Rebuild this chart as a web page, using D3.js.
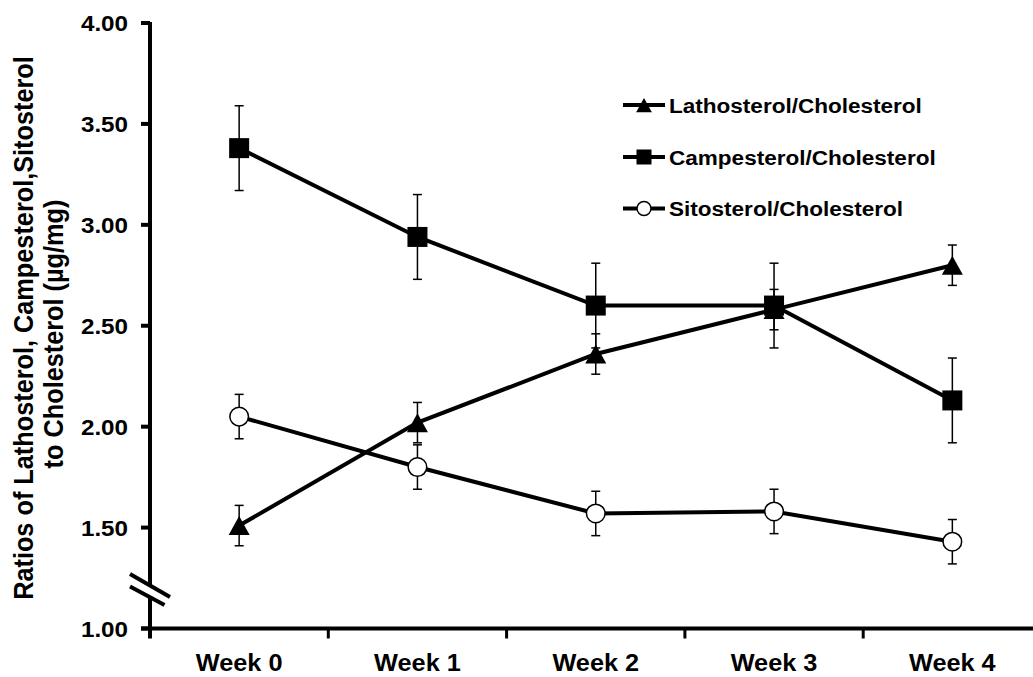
<!DOCTYPE html>
<html>
<head>
<meta charset="utf-8">
<script src="https://cdn.jsdelivr.net/npm/d3@7"></script>
<style>
  html, body { margin: 0; padding: 0; background: #fff; }
  text { font-family: "Liberation Sans", Arial, sans-serif; font-weight: bold; fill: #000; }
</style>
</head>
<body>
<div id="chart"></div>
<script>
// values
const weeks = ["Week 0", "Week 1", "Week 2", "Week 3", "Week 4"];
const yTicks = [1.00, 1.50, 2.00, 2.50, 3.00, 3.50, 4.00];

const lathosterol = [1.51, 2.02, 2.36, 2.58, 2.80];
const lathosterolErr = [0.10, 0.10, 0.10, 0.10, 0.10];
const campesterol = [3.38, 2.94, 2.60, 2.60, 2.13];
const campesterolErr = [0.21, 0.21, 0.21, 0.21, 0.21];
const sitosterol = [2.05, 1.80, 1.57, 1.58, 1.43];
const sitosterolErr = [0.11, 0.11, 0.11, 0.11, 0.11];

const seriesNames = ["Lathosterol/Cholesterol", "Campesterol/Cholesterol", "Sitosterol/Cholesterol"];
const axisBreak = 1.23;

const width = 1033;
const height = 677;
const stretch = 1.1; // text in the original is a bit wide

const series = [
    { name: seriesNames[2], values: sitosterol, err: sitosterolErr, shape: "circle" },
    { name: seriesNames[0], values: lathosterol, err: lathosterolErr, shape: "triangle" },
    { name: seriesNames[1], values: campesterol, err: campesterolErr, shape: "square" }
];

const svg = d3.select("#chart").append("svg")
    .attr("width", width)
    .attr("height", height)
    .attr("viewBox", `0 0 ${width} ${height}`);

const x = d3.scaleBand().domain(weeks).range([150, 1041.5]);
const y = d3.scaleLinear().domain([1, 4]).range([628.5, 23]);

function drawMarker(g, shape, cx, cy, s) {
    if (shape === "circle") {
        g.append("circle")
            .attr("cx", cx).attr("cy", cy).attr("r", 9.3 * s)
            .attr("fill", "#fff").attr("stroke", "#000").attr("stroke-width", 1.5);
    } else if (shape === "square") {
        g.append("rect")
            .attr("x", cx - 10 * s).attr("y", cy - 10 * s)
            .attr("width", 20 * s).attr("height", 20 * s)
            .attr("fill", "#000");
    } else {
        g.append("path")
            .attr("d", `M${cx},${cy - 9.5 * s}L${cx + 10.5 * s},${cy + 9.5 * s}L${cx - 10.5 * s},${cy + 9.5 * s}Z`)
            .attr("fill", "#000");
    }
}

function stretchedText(parent, tx, ty, str, size, anchor, rotate) {
    return parent.append("text")
        .attr("transform", `translate(${tx},${ty}) scale(${stretch},1)` + (rotate ? ` rotate(${rotate})` : ""))
        .attr("text-anchor", anchor)
        .style("font-size", size + "px")
        .text(str);
}

// axes
const axes = svg.append("g");

// x axis line and ticks between categories
axes.append("line")
    .attr("x1", 141).attr("x2", x.range()[1])
    .attr("y1", y(1)).attr("y2", y(1))
    .attr("stroke", "#000").attr("stroke-width", 4);
weeks.slice(1).forEach(w => {
    axes.append("line")
        .attr("x1", x(w)).attr("x2", x(w))
        .attr("y1", y(1)).attr("y2", y(1) + 10)
        .attr("stroke", "#000").attr("stroke-width", 3);
});
weeks.forEach(w => {
    stretchedText(axes, x(w) + x.bandwidth() / 2, 671, w, 23, "middle");
});

// y axis line
axes.append("line")
    .attr("x1", 150).attr("x2", 150)
    .attr("y1", y(1) + 10).attr("y2", y(4) - 1)
    .attr("stroke", "#000").attr("stroke-width", 4);
yTicks.forEach(t => {
    axes.append("line")
        .attr("x1", 141).attr("x2", 150)
        .attr("y1", y(t)).attr("y2", y(t))
        .attr("stroke", "#000").attr("stroke-width", 4);
    stretchedText(axes, 128, y(t) + 8, d3.format(".2f")(t), 22, "end");
});

// axis break
const by = y(axisBreak);
axes.append("path")
    .attr("d", `M130,${by - 8}L170,${by + 15}L165,${by + 23}L130,${by + 4}Z`)
    .attr("fill", "#fff");
axes.append("line")
    .attr("x1", 130).attr("y1", by - 8).attr("x2", 170).attr("y2", by + 15)
    .attr("stroke", "#000").attr("stroke-width", 4);
axes.append("line")
    .attr("x1", 130).attr("y1", by + 4.5).attr("x2", 164.5).attr("y2", by + 23)
    .attr("stroke", "#000").attr("stroke-width", 4);

// y axis title
stretchedText(axes, 33, 328, "Ratios of Lathosterol, Campesterol,Sitosterol", 25.3, "middle", -90);
stretchedText(axes, 63, 334, "to Cholesterol (\u00b5g/mg)", 25.3, "middle", -90);

// series
const cx = w => x(w) + x.bandwidth() / 2;
const line = d3.line().x((d, i) => cx(weeks[i])).y(d => y(d));

series.forEach(s => {
    const g = svg.append("g");
    g.append("path")
        .datum(s.values)
        .attr("d", line)
        .attr("fill", "none")
        .attr("stroke", "#000")
        .attr("stroke-width", 4);
});

series.forEach(s => {
    const g = svg.append("g");
    s.values.forEach((v, i) => {
        const px = cx(weeks[i]);
        const hi = y(v + s.err[i]);
        const lo = y(v - s.err[i]);
        g.append("line").attr("x1", px).attr("x2", px).attr("y1", hi).attr("y2", lo)
            .attr("stroke", "#000").attr("stroke-width", 1.5);
        [hi, lo].forEach(yy => {
            g.append("line").attr("x1", px - 4.5).attr("x2", px + 4.5).attr("y1", yy).attr("y2", yy)
                .attr("stroke", "#000").attr("stroke-width", 1.5);
        });
    });
});

series.forEach(s => {
    const g = svg.append("g");
    s.values.forEach((v, i) => drawMarker(g, s.shape, cx(weeks[i]), y(v), 1));
});

// legend
const legendRows = [
    { name: seriesNames[0], shape: "triangle", y: 105 },
    { name: seriesNames[1], shape: "square", y: 157 },
    { name: seriesNames[2], shape: "circle", y: 208.5 }
];
const legend = svg.append("g");
legendRows.forEach(r => {
    legend.append("line")
        .attr("x1", 623).attr("x2", 665)
        .attr("y1", r.y).attr("y2", r.y)
        .attr("stroke", "#000").attr("stroke-width", 4);
    drawMarker(legend, r.shape, 644, r.y, 0.75);
    stretchedText(legend, 669, r.y + 7.5, r.name, 20.5, "start");
});
</script>
</body>
</html>
